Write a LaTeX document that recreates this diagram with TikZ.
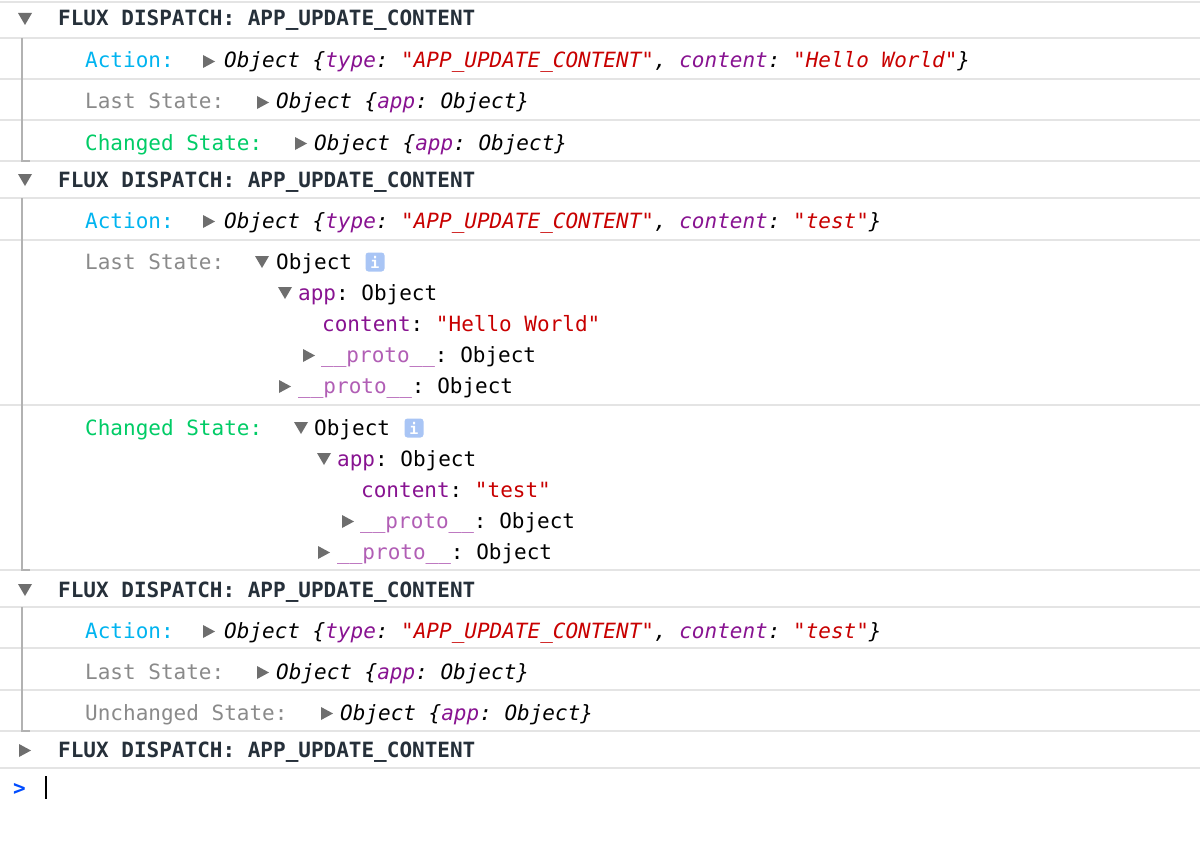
\documentclass[tikz,border=0pt]{standalone}
\usepackage{fontspec}
\setmonofont{DejaVu Sans Mono}
\definecolor{hd}{HTML}{26303A}
\definecolor{cy}{HTML}{00B4F0}
\definecolor{gl}{HTML}{8A8A8A}
\definecolor{gr}{HTML}{00CC66}
\definecolor{pu}{HTML}{881391}
\definecolor{rd}{HTML}{C80000}
\definecolor{lp}{HTML}{B15EB5}
\definecolor{sep}{HTML}{E4E4E4}
\definecolor{tg}{HTML}{6E6E6E}
\definecolor{ic}{HTML}{A9C5F5}
\newcommand\tr[2]{\fill[tg] (#1,#2-13) -- ++(12,6.5) -- ++(-12,6.5) -- cycle;}
\newcommand\td[2]{\fill[tg] (#1,#2-13) -- ++(14,0) -- ++(-7,12) -- cycle;}
\newcommand\ob{\itshape}
\tikzset{t/.style={anchor=base west,inner sep=0pt,font=\ttfamily\fontsize{21}{25}\selectfont},
 h/.style={t,font=\ttfamily\bfseries\fontsize{21}{25}\selectfont,text=hd},
 sepl/.style={draw=sep,line width=1.5pt},
 bar/.style={draw=gray!60,line width=1.5pt}}
\begin{document}
\begin{tikzpicture}[x=1pt,y=-1pt]
\useasboundingbox[fill=white] (0,0) rectangle (1200,859);
\foreach \y in {2,38,79,120,161,198,240,405,570,607,648,690,731,768}{\draw[sepl] (0,\y) -- (1200,\y);}
\foreach \a/\b in {38/161,198/570,607/731}{\draw[bar] (22,\a) -- (22,\b) -- (30,\b);}
% block 1
\td{18}{26}
\node[h] (h1) at (58,26) {FLUX DISPATCH: APP\_UPDATE\_CONTENT};
\node[t,text=cy] (a1) at (85,68) {Action:};
\tr{203}{68}
\node[t] (a1o) at (224,68) {\ob Object \{\textcolor{pu}{type}: \textcolor{rd}{"APP\_UPDATE\_CONTENT"}, \textcolor{pu}{content}: \textcolor{rd}{"Hello World"}\}};
\node[t,text=gl] (l1) at (85,109) {Last State:};
\tr{257}{109}
\node[t] (l1o) at (276,109) {\ob Object \{\textcolor{pu}{app}: Object\}};
\node[t,text=gr] (c1) at (85,150) {Changed State:};
\tr{295}{150}
\node[t] (c1o) at (314,150) {\ob Object \{\textcolor{pu}{app}: Object\}};
% block 2
\td{18}{187}
\node[h] (h2) at (58,187) {FLUX DISPATCH: APP\_UPDATE\_CONTENT};
\node[t,text=cy] (a2) at (85,228) {Action:};
\tr{203}{228}
\node[t] (a2o) at (224,228) {\ob Object \{\textcolor{pu}{type}: \textcolor{rd}{"APP\_UPDATE\_CONTENT"}, \textcolor{pu}{content}: \textcolor{rd}{"test"}\}};
\node[t,text=gl] (l2) at (85,269) {Last State:};
\td{255}{269}
\node[t] (l2o) at (276,269) {Object};
\node[fill=ic,rounded corners=3pt,minimum size=19pt,inner sep=0pt,text=white,font=\ttfamily\bfseries\fontsize{15}{15}\selectfont] (i1) at (375,262) {i};
\td{278}{300}
\node[t] (l2a) at (298,300) {\textcolor{pu}{app}: Object};
\node[t] (l2c) at (322,331) {\textcolor{pu}{content}: \textcolor{rd}{"Hello World"}};
\tr{303}{362}
\node[t] (l2p) at (321,362) {\textcolor{lp}{\_\_proto\_\_}: Object};
\tr{279}{393}
\node[t] (l2q) at (298,393) {\textcolor{lp}{\_\_proto\_\_}: Object};
\node[t,text=gr] (c2) at (85,435) {Changed State:};
\td{294}{435}
\node[t] (c2o) at (314,435) {Object};
\node[fill=ic,rounded corners=3pt,minimum size=19pt,inner sep=0pt,text=white,font=\ttfamily\bfseries\fontsize{15}{15}\selectfont] (i2) at (414,428) {i};
\td{317}{466}
\node[t] (c2a) at (337,466) {\textcolor{pu}{app}: Object};
\node[t] (c2c) at (361,497) {\textcolor{pu}{content}: \textcolor{rd}{"test"}};
\tr{342}{528}
\node[t] (c2p) at (360,528) {\textcolor{lp}{\_\_proto\_\_}: Object};
\tr{318}{559}
\node[t] (c2q) at (337,559) {\textcolor{lp}{\_\_proto\_\_}: Object};
% block 3
\td{18}{597}
\node[h] (h3) at (58,597) {FLUX DISPATCH: APP\_UPDATE\_CONTENT};
\node[t,text=cy] (a3) at (85,638) {Action:};
\tr{203}{638}
\node[t] (a3o) at (224,638) {\ob Object \{\textcolor{pu}{type}: \textcolor{rd}{"APP\_UPDATE\_CONTENT"}, \textcolor{pu}{content}: \textcolor{rd}{"test"}\}};
\node[t,text=gl] (l3) at (85,679) {Last State:};
\tr{257}{679}
\node[t] (l3o) at (276,679) {\ob Object \{\textcolor{pu}{app}: Object\}};
\node[t,text=gl] (u3) at (85,720) {Unchanged State:};
\tr{321}{720}
\node[t] (u3o) at (340,720) {\ob Object \{\textcolor{pu}{app}: Object\}};
% block 4
\tr{19}{757}
\node[h] (h4) at (58,757) {FLUX DISPATCH: APP\_UPDATE\_CONTENT};
\node[t,text=blue!70!cyan,font=\ttfamily\bfseries\fontsize{21}{25}\selectfont] (pr) at (13,795) {>};
\draw[black,line width=1.2pt] (46,776) -- (46,799);
\end{tikzpicture}
\end{document}
